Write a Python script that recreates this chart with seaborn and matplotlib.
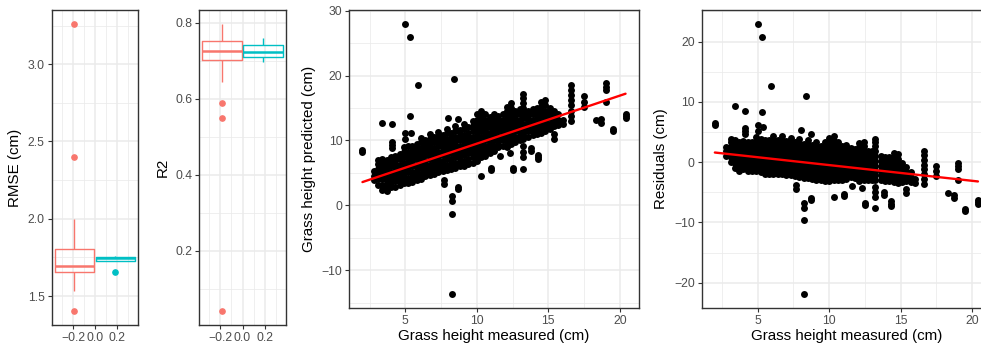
import numpy as np
import pandas as pd
import matplotlib
matplotlib.use('Agg')
import matplotlib.pyplot as plt
import seaborn as sns

# --- boxplot values (two model groups) ---
rmse_a = [1.405, 1.534, 1.60, 1.63, 1.653, 1.66, 1.67, 1.68, 1.692, 1.71,
          1.74, 1.77, 1.805, 1.86, 1.999, 2.398, 3.258]
rmse_b = [1.653, 1.724, 1.745, 1.755, 1.761]
r2_a = [0.042, 0.550, 0.590, 0.645, 0.702, 0.706, 0.712, 0.718, 0.725, 0.731,
        0.738, 0.745, 0.752, 0.760, 0.770, 0.782, 0.796]
r2_b = [0.6974, 0.7098, 0.7237, 0.7405, 0.759]
groups = ['a', 'b']
group_colors = ['#F8766D', '#00BFC4']

# --- grass height: measured vs predicted (cm) ---
measured = [
    2.0, 2.0,
    2.8, 2.8, 2.8,
    3.1, 3.1, 3.1, 3.1, 3.1, 3.1,
    3.4, 3.4, 3.4, 3.4, 3.4, 3.4, 3.4,
    3.7, 3.7, 3.7, 3.7, 3.7, 3.7, 3.7,
    4.0, 4.0, 4.0, 4.0, 4.0, 4.0, 4.0,
    4.3, 4.3, 4.3, 4.3, 4.3, 4.3, 4.3,
    4.6, 4.6, 4.6, 4.6, 4.6, 4.6, 4.6,
    4.9, 4.9, 4.9, 4.9, 4.9, 4.9, 4.9, 4.9,
    5.2, 5.2, 5.2, 5.2, 5.2, 5.2, 5.2, 5.2,
    5.5, 5.5, 5.5, 5.5, 5.5, 5.5, 5.5, 5.5,
    5.8, 5.8, 5.8, 5.8, 5.8, 5.8, 5.8, 5.8,
    6.1, 6.1, 6.1, 6.1, 6.1, 6.1, 6.1, 6.1, 6.1,
    6.4, 6.4, 6.4, 6.4, 6.4, 6.4, 6.4, 6.4,
    6.7, 6.7, 6.7, 6.7, 6.7, 6.7, 6.7, 6.7, 6.7,
    7.0, 7.0, 7.0, 7.0, 7.0, 7.0, 7.0, 7.0,
    7.3, 7.3, 7.3, 7.3, 7.3, 7.3, 7.3, 7.3, 7.3,
    7.6, 7.6, 7.6, 7.6, 7.6, 7.6, 7.6, 7.6,
    7.9, 7.9, 7.9, 7.9, 7.9, 7.9, 7.9, 7.9, 7.9,
    8.2, 8.2, 8.2, 8.2, 8.2, 8.2, 8.2, 8.2,
    8.5, 8.5, 8.5, 8.5, 8.5, 8.5, 8.5, 8.5, 8.5,
    8.8, 8.8, 8.8, 8.8, 8.8, 8.8, 8.8, 8.8,
    9.1, 9.1, 9.1, 9.1, 9.1, 9.1, 9.1, 9.1, 9.1,
    9.4, 9.4, 9.4, 9.4, 9.4, 9.4, 9.4, 9.4,
    9.7, 9.7, 9.7, 9.7, 9.7, 9.7, 9.7, 9.7, 9.7,
    10.0, 10.0, 10.0, 10.0, 10.0, 10.0, 10.0, 10.0, 10.0, 10.0,
    10.3, 10.3, 10.3, 10.3, 10.3, 10.3, 10.3, 10.3, 10.3, 10.3,
    10.6, 10.6, 10.6, 10.6, 10.6, 10.6, 10.6, 10.6, 10.6,
    10.9, 10.9, 10.9, 10.9, 10.9, 10.9, 10.9, 10.9,
    11.2, 11.2, 11.2, 11.2, 11.2, 11.2, 11.2, 11.2,
    11.5, 11.5, 11.5, 11.5, 11.5, 11.5, 11.5,
    11.8, 11.8, 11.8, 11.8, 11.8, 11.8, 11.8,
    12.1, 12.1, 12.1, 12.1, 12.1, 12.1, 12.1, 12.1, 12.1,
    12.4, 12.4, 12.4, 12.4, 12.4, 12.4, 12.4, 12.4, 12.4,
    12.7, 12.7, 12.7, 12.7, 12.7, 12.7, 12.7,
    13.0, 13.0, 13.0, 13.0, 13.0, 13.0, 13.0,
    13.2, 13.2, 13.2, 13.2, 13.2, 13.2, 13.2, 13.2, 13.2, 13.2,
    13.6, 13.6, 13.6, 13.6, 13.6, 13.6,
    13.9, 13.9, 13.9, 13.9, 13.9, 13.9,
    14.2, 14.2, 14.2, 14.2, 14.2, 14.2,
    14.5, 14.5, 14.5, 14.5, 14.5, 14.5, 14.5,
    14.8, 14.8, 14.8, 14.8, 14.8, 14.8, 14.8,
    15.1, 15.1, 15.1, 15.1, 15.1,
    15.4, 15.4, 15.4, 15.4, 15.4, 15.4,
    15.7, 15.7, 15.7,
    16.0, 16.0,
    16.6, 16.6, 16.6, 16.6, 16.6, 16.6, 16.6, 16.6,
    17.5, 17.5, 17.5,
    18.3,
    18.7, 18.7,
    19.0, 19.0, 19.0, 19.0,
    19.5, 19.5,
    20.4, 20.4, 20.4,
    # scattered points off the main cloud
    5.0, 5.3, 5.9, 8.4,
    8.25, 8.25, 8.25, 8.25,
    3.4, 4.1, 5.3, 4.1, 4.1, 4.1,
    5.0, 5.0, 5.4,
    7.7, 7.7, 8.7, 8.7,
    8.0, 8.7,
    10.3, 11.0, 11.0, 12.5, 12.5, 13.2,
    11.6, 12.3, 13.2, 13.2, 13.2, 13.8, 13.8, 14.3, 14.3, 14.3,
]
predicted = [
    8.2, 8.5,
    3.9, 4.6, 5.3,
    3.2, 4.0, 4.8, 5.6, 6.4, 7.0,
    2.4, 3.2, 4.0, 4.8, 5.6, 6.4, 7.1,
    2.2, 3.0, 3.8, 4.6, 5.4, 6.2, 7.0,
    2.8, 3.6, 4.4, 5.2, 6.0, 6.8, 7.5,
    2.9, 3.7, 4.5, 5.3, 6.1, 6.9, 7.6,
    3.1, 3.9, 4.7, 5.5, 6.3, 7.1, 7.9,
    3.4, 4.2, 5.0, 5.8, 6.6, 7.4, 8.2, 9.0,
    3.5, 4.3, 5.1, 5.9, 6.7, 7.5, 8.3, 9.1,
    3.6, 4.4, 5.2, 6.0, 6.8, 7.6, 8.4, 9.2,
    3.9, 4.7, 5.5, 6.3, 7.1, 7.9, 8.7, 9.5,
    4.1, 4.9, 5.7, 6.5, 7.3, 8.1, 8.9, 9.7, 10.4,
    4.5, 5.3, 6.1, 6.9, 7.7, 8.5, 9.3, 10.1,
    4.7, 5.5, 6.3, 7.1, 7.9, 8.7, 9.5, 10.3, 11.0,
    4.9, 5.7, 6.5, 7.3, 8.1, 8.9, 9.7, 10.5,
    5.1, 5.9, 6.7, 7.5, 8.3, 9.1, 9.9, 10.7, 11.3,
    5.3, 6.1, 6.9, 7.7, 8.5, 9.3, 10.1, 10.9,
    5.5, 6.3, 7.1, 7.9, 8.7, 9.5, 10.3, 11.1, 11.8,
    5.6, 6.4, 7.2, 8.0, 8.8, 9.6, 10.4, 11.2,
    5.8, 6.6, 7.4, 8.2, 9.0, 9.8, 10.6, 11.4, 12.2,
    6.0, 6.8, 7.6, 8.4, 9.2, 10.0, 10.8, 11.6,
    6.1, 6.9, 7.7, 8.5, 9.3, 10.1, 10.9, 11.7, 12.5,
    6.4, 7.2, 8.0, 8.8, 9.6, 10.4, 11.2, 12.0,
    6.6, 7.4, 8.2, 9.0, 9.8, 10.6, 11.4, 12.2, 13.0,
    6.8, 7.6, 8.4, 9.2, 10.0, 10.8, 11.6, 12.4, 13.2, 14.0,
    7.4, 8.2, 9.0, 9.8, 10.6, 11.4, 12.2, 13.0, 13.8, 14.6,
    7.6, 8.4, 9.2, 10.0, 10.8, 11.6, 12.4, 13.2, 14.0,
    8.0, 8.8, 9.6, 10.4, 11.2, 12.0, 12.8, 13.6,
    8.4, 9.2, 10.0, 10.8, 11.6, 12.4, 13.2, 14.0,
    9.0, 9.8, 10.6, 11.4, 12.2, 13.0, 13.8,
    9.2, 10.0, 10.8, 11.6, 12.4, 13.2, 14.0,
    9.0, 9.8, 10.6, 11.4, 12.2, 13.0, 13.8, 14.6, 15.2,
    9.4, 10.2, 11.0, 11.8, 12.6, 13.4, 14.2, 15.0, 15.8,
    9.8, 10.6, 11.4, 12.2, 13.0, 13.8, 14.6,
    10.0, 10.8, 11.6, 12.4, 13.2, 14.0, 14.8,
    10.2, 11.0, 11.8, 12.6, 13.4, 14.2, 15.0, 15.8, 16.6, 17.1,
    10.6, 11.4, 12.2, 13.0, 13.8, 14.6,
    10.8, 11.6, 12.4, 13.2, 14.0, 14.8,
    11.0, 11.8, 12.6, 13.4, 14.2, 15.0,
    11.2, 12.0, 12.8, 13.6, 14.4, 15.2, 16.0,
    11.4, 12.2, 13.0, 13.8, 14.6, 15.4, 16.2,
    11.8, 12.6, 13.4, 14.2, 15.0,
    10.3, 11.0, 12.2, 13.0, 13.8, 14.6,
    12.4, 13.2, 14.0,
    12.5, 13.2,
    13.0, 13.8, 14.6, 15.4, 16.2, 17.0, 17.8, 18.5,
    15.2, 16.0, 16.8,
    13.2,
    12.7, 13.3,
    16.0, 17.8, 18.3, 18.8,
    11.4, 11.8,
    13.4, 13.8, 14.1,
    # scattered points off the main cloud
    28.0, 26.0, 18.6, 19.4,
    -13.7, 1.5, 0.7, -1.3,
    12.7, 12.6, 13.7, 9.3, 9.8, 8.8,
    10.2, 11.2, 11.2,
    3.9, 3.3, 2.8, 2.5,
    13.4, 13.3,
    4.6, 5.7, 5.4, 5.8, 5.4, 5.6,
    7.6, 8.0, 9.1, 8.3, 7.5, 8.9, 8.4, 7.4, 7.8, 7.1,
]
# fitted linear trend (end points)
fit_x = [2.0, 20.4]
fit_pred = [3.6, 17.2]

measured = np.array(measured)
predicted = np.array(predicted)
residuals = predicted - measured
fit_resid = np.array(fit_pred) - np.array(fit_x)

sns.set_theme(style='whitegrid')
plt.rcParams['font.family'] = ['Liberation Sans', 'DejaVu Sans']
plt.rcParams['axes.unicode_minus'] = True

W, H = 981, 343
fig = plt.figure(figsize=(W / 100, H / 100), dpi=100)


def add_ax(left, right, top, bottom):
    return fig.add_axes([left / W, 1 - bottom / H, (right - left) / W, (bottom - top) / H])


def expand(vals, frac=0.05):
    lo, hi = min(vals), max(vals)
    pad = (hi - lo) * frac
    return lo - pad, hi + pad


def style(ax, xmaj, xmin, ymaj, ymin):
    ax.set_xticks(xmaj)
    ax.set_xticks(xmin, minor=True)
    ax.set_yticks(ymaj)
    ax.set_yticks(ymin, minor=True)
    ax.grid(True, which='major', color='#EBEBEB', linewidth=1.1)
    ax.grid(True, which='minor', color='#EBEBEB', linewidth=0.55)
    ax.set_axisbelow(True)
    ax.set_facecolor('white')
    for s in ax.spines.values():
        s.set_color('#333333')
        s.set_linewidth(1.0)
        s.set_visible(True)
    ax.tick_params(which='major', length=3.2, width=0.8, color='#333333',
                   labelsize=8.8, labelcolor='#4D4D4D', pad=1.8, left=True, bottom=True)
    ax.tick_params(which='minor', length=0)


def box_panel(ax, a, b, label, ymaj, ymin):
    df = pd.DataFrame({'val': a + b, 'grp': [groups[0]] * len(a) + [groups[1]] * len(b)})
    sns.boxplot(data=df, y='val', hue='grp', palette=group_colors, fill=False,
                width=0.75, gap=0.04, linewidth=1.0, showcaps=False,
                flierprops=dict(marker='o', markersize=3.8),
                medianprops=dict(linewidth=1.8), legend=False, ax=ax)
    for ln in ax.lines:
        if ln.get_marker() == 'o':
            ln.set_markerfacecolor(ln.get_markeredgecolor())
    ax.set_xlim(-0.395, 0.395)
    ax.set_ylim(*expand(a + b))
    style(ax, [-0.2, 0.0, 0.2], [-0.3, -0.1, 0.1, 0.3], ymaj, ymin)
    ax.set_xticklabels(['\u22120.2', '0.0', '0.2'])
    ax.set_xlabel('')
    ax.set_ylabel(label, fontsize=10.9, color='black', labelpad=4)


ax1 = add_ax(51.7, 138, 10, 325)
box_panel(ax1, rmse_a, rmse_b, 'RMSE (cm)', [1.5, 2.0, 2.5, 3.0], [1.75, 2.25, 2.75, 3.25])

ax2 = add_ax(199, 286, 10, 325)
box_panel(ax2, r2_a, r2_b, 'R2', [0.2, 0.4, 0.6, 0.8], [0.1, 0.3, 0.5, 0.7])

ax3 = add_ax(349.3, 638.7, 10, 308)
sns.scatterplot(x=measured, y=predicted, color='black', s=25, linewidth=0, ax=ax3)
sns.lineplot(x=fit_x, y=fit_pred, color='red', linewidth=1.7, ax=ax3)
ax3.set_xlim(*expand(measured))
ax3.set_ylim(*expand(predicted))
style(ax3, [5, 10, 15, 20], [2.5, 7.5, 12.5, 17.5], [-10, 0, 10, 20, 30], [-15, -5, 5, 15, 25])
ax3.set_xlabel('Grass height measured (cm)', fontsize=10.9, color='black', labelpad=1.5)
ax3.set_ylabel('Grass height predicted (cm)', fontsize=10.9, color='black', labelpad=4)

ax4 = add_ax(701.7, 991.1, 10, 308)
sns.scatterplot(x=measured, y=residuals, color='black', s=25, linewidth=0, ax=ax4)
sns.lineplot(x=fit_x, y=fit_resid, color='red', linewidth=1.7, ax=ax4)
ax4.set_xlim(*expand(measured))
ax4.set_ylim(*expand(residuals))
style(ax4, [5, 10, 15, 20], [2.5, 7.5, 12.5, 17.5], [-20, -10, 0, 10, 20], [-15, -5, 5, 15, 25])
ax4.set_xlabel('Grass height measured (cm)', fontsize=10.9, color='black', labelpad=1.5)
ax4.set_ylabel('Residuals (cm)', fontsize=10.9, color='black', labelpad=4)

fig.savefig('out.png', dpi=100, facecolor='white')
